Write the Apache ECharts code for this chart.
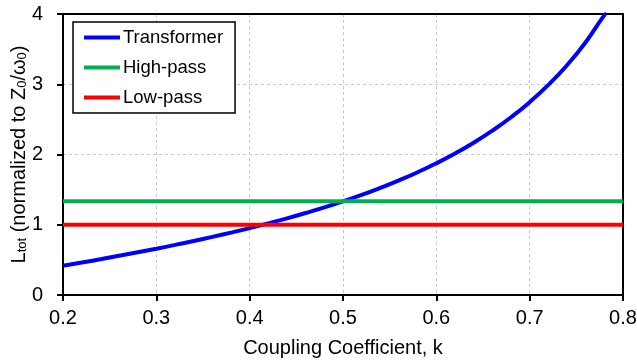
<!DOCTYPE html>
<html>
<head>
<meta charset="utf-8">
<script src="https://cdn.jsdelivr.net/npm/echarts@6/dist/echarts.min.js"></script>
<style>
  html, body { margin: 0; padding: 0; background: #fff; }
  #chart { width: 637px; height: 360px; }
</style>
</head>
<body>
<div id="chart"></div>
<script>
// coupling coefficient k (x) and normalized L_tot values
const kValues = [0.20, 0.22, 0.24, 0.26, 0.28, 0.30, 0.32, 0.34, 0.36, 0.38,
  0.40, 0.42, 0.44, 0.46, 0.48, 0.50, 0.52, 0.54, 0.56, 0.58,
  0.60, 0.62, 0.64, 0.66, 0.68, 0.70, 0.72, 0.74, 0.76, 0.78, 0.782];
const transformerL = [0.417, 0.462, 0.509, 0.558, 0.608, 0.659, 0.713, 0.769, 0.827, 0.888,
  0.952, 1.020, 1.091, 1.167, 1.247, 1.333, 1.425, 1.525, 1.632, 1.748,
  1.875, 2.014, 2.168, 2.339, 2.530, 2.745, 2.990, 3.271, 3.598, 3.984, 4.0];
const flatK = [0.2, 0.8];
const highPassL = [1.333, 1.333];
const lowPassL = [1.0, 1.0];

const xTicks = { min: 0.2, max: 0.8, interval: 0.1 };
const yTicks = { min: 0, max: 4, interval: 1 };

function pairs(xs, ys) {
  return xs.map((x, i) => [x, ys[i]]);
}

var myChart = echarts.init(document.getElementById("chart"));
const font = "Liberation Sans, Arial, sans-serif";
const gridLine = { show: true, lineStyle: { color: "#c8c8c8", type: [3, 3], width: 1 } };
const blackLine = { show: true, onZero: false, lineStyle: { color: "#000", width: 2 } };

let option = {
  animation: false,
  textStyle: { fontFamily: font },
  grid: {
    left: 63,
    right: 14,
    top: 14,
    bottom: 65,
    containLabel: false,
    outerBoundsMode: "none",
  },
  legend: {
    orient: "vertical",
    left: 73,
    top: 22,
    backgroundColor: "#fff",
    borderColor: "#000",
    borderWidth: 1.5,
    padding: [6, 12, 6, 11],
    itemGap: 11,
    itemWidth: 36,
    itemHeight: 4,
    icon: "rect",
    textStyle: { fontSize: 18.5, color: "#000", fontFamily: font, padding: [0, 0, 0, -2] },
    data: ["Transformer", "High-pass", "Low-pass"],
  },
  xAxis: [
    {
      type: "value",
      min: xTicks.min,
      max: xTicks.max,
      interval: xTicks.interval,
      name: "Coupling Coefficient, k",
      nameLocation: "middle",
      nameGap: 43,
      nameTextStyle: { fontSize: 20, color: "#000", fontFamily: font },
      axisLine: blackLine,
      axisTick: { show: true, length: 6, lineStyle: { color: "#000", width: 2 } },
      axisLabel: {
        color: "#000",
        fontSize: 20,
        margin: 13,
        formatter: (v) => v.toFixed(1),
      },
      splitLine: gridLine,
    },
    {
      // top frame line
      type: "value",
      position: "top",
      min: xTicks.min,
      max: xTicks.max,
      axisLine: blackLine,
      axisTick: { show: false },
      axisLabel: { show: false },
      splitLine: { show: false },
    },
  ],
  yAxis: [
    {
      type: "value",
      min: yTicks.min,
      max: yTicks.max,
      interval: yTicks.interval,
      name: "{b|L}{s|tot}{b| (normalized to Z}{s|0}{b|/ω}{s|0}{b|)}",
      nameLocation: "middle",
      nameRotate: 90,
      nameGap: 34,
      nameMoveOverlap: false,
      nameTextStyle: {
        color: "#000",
        rich: {
          b: { fontSize: 20, color: "#000", fontFamily: font, lineHeight: 24, verticalAlign: "bottom" },
          s: { fontSize: 13, color: "#000", fontFamily: font, lineHeight: 13, verticalAlign: "bottom", padding: [7, 0, 0, 0] },
        },
      },
      axisLine: blackLine,
      axisTick: { show: true, length: 6, lineStyle: { color: "#000", width: 2 } },
      axisLabel: { color: "#000", fontSize: 20, margin: 20 },
      splitLine: gridLine,
    },
    {
      // right frame line
      type: "value",
      position: "right",
      min: yTicks.min,
      max: yTicks.max,
      axisLine: blackLine,
      axisTick: { show: false },
      axisLabel: { show: false },
      splitLine: { show: false },
    },
  ],
  series: [
    {
      name: "Transformer",
      type: "line",
      smooth: true,
      showSymbol: false,
      color: "#0000FF",
      lineStyle: { color: "#0000FF", width: 4 },
      clip: true,
      data: pairs(kValues, transformerL),
    },
    {
      name: "High-pass",
      type: "line",
      showSymbol: false,
      color: "#00B050",
      lineStyle: { color: "#00B050", width: 4 },
      data: pairs(flatK, highPassL),
    },
    {
      name: "Low-pass",
      type: "line",
      showSymbol: false,
      color: "#FF0000",
      lineStyle: { color: "#FF0000", width: 4 },
      data: pairs(flatK, lowPassL),
    },
  ],
};

myChart.setOption(option);
</script>
</body>
</html>
